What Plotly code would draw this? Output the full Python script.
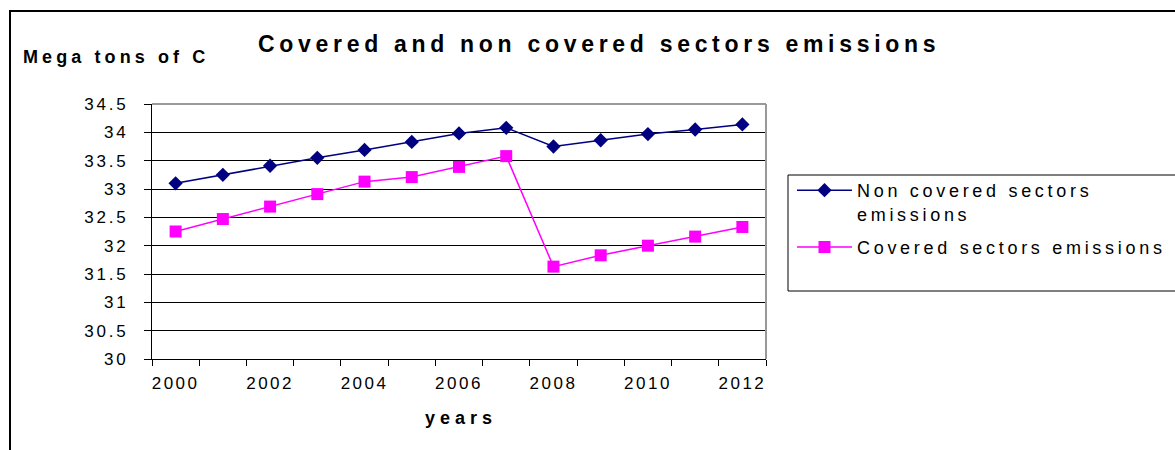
import plotly.graph_objects as go

# Emissions by year, Mega tons of C
years = [2000, 2001, 2002, 2003, 2004, 2005, 2006, 2007, 2008, 2009, 2010, 2011, 2012]
non_covered = [33.10, 33.25, 33.41, 33.55, 33.69, 33.83, 33.98, 34.08, 33.75, 33.86, 33.97, 34.05, 34.14]
covered = [32.25, 32.47, 32.69, 32.91, 33.13, 33.21, 33.39, 33.58, 31.63, 31.83, 32.00, 32.16, 32.33]

y_ticks = [30, 30.5, 31, 31.5, 32, 32.5, 33, 33.5, 34, 34.5]
y_tick_labels = ["30", "30.5", "31", "31.5", "32", "32.5", "33", "33.5", "34", "34.5"]
x_ticks = [2000, 2002, 2004, 2006, 2008, 2010, 2012]
x_tick_labels = ["2000", "2002", "2004", "2006", "2008", "2010", "2012"]

title_text = "Covered and non covered sectors emissions"
y_title = "Mega tons of C"
x_title = "years"
name_non_covered = "Non covered sectors<br>emissions"
name_covered = "Covered sectors emissions"

FONT = "Liberation Sans, Arial, sans-serif"


def spaced(text, px):
    # wide letter tracking, applied per text piece
    parts = text.split("<br>")
    return "<br>".join(f'<span style="letter-spacing:{px}px">{p}</span>' for p in parts)


W, H = 1175, 450
L, R, T, B = 152, 409, 104, 91
PW, PH = W - L - R, H - T - B


def px_x(x):
    return (x - L) / PW


def px_y(y):
    return (H - B - y) / PH


fig = go.Figure()
fig.add_trace(go.Scatter(
    x=years, y=non_covered, mode="lines+markers",
    name=spaced(name_non_covered, 3.7), legendgroup="a",
    line=dict(color="#000080", width=1.5),
    marker=dict(symbol="diamond", size=11, color="#000080"),
))
fig.add_trace(go.Scatter(
    x=years, y=covered, mode="lines+markers",
    name=spaced(name_covered, 3.7), legendgroup="b",
    line=dict(color="#FF00FF", width=1.5),
    marker=dict(symbol="square", size=12, color="#FF00FF"),
))

shapes = [
    # outer chart frame
    dict(type="rect", xref="paper", yref="paper",
         x0=px_x(10), x1=px_x(1190), y0=px_y(470), y1=px_y(11),
         line=dict(color="black", width=2), layer="below"),
    # plot area top and right edges
    dict(type="line", xref="paper", yref="paper", x0=0, x1=1, y0=1, y1=1,
         line=dict(color="#999999", width=2)),
    dict(type="line", xref="paper", yref="paper", x0=1, x1=1, y0=0, y1=1,
         line=dict(color="#999999", width=2)),
    # legend frame
    dict(type="rect", xref="paper", yref="paper",
         x0=px_x(788), x1=px_x(1190), y0=px_y(291), y1=px_y(175),
         line=dict(color="black", width=1)),
]

annotations = [
    dict(text="<b>" + spaced(title_text, 4.7) + "</b>", x=px_x(599), y=px_y(44),
         xref="paper", yref="paper", showarrow=False, xanchor="center", yanchor="middle",
         font=dict(family=FONT, size=23, color="black")),
    dict(text="<b>" + spaced(y_title, 4.1) + "</b>", x=px_x(21), y=px_y(57),
         xref="paper", yref="paper", showarrow=False, xanchor="left", yanchor="middle",
         font=dict(family=FONT, size=18, color="black")),
    dict(text="<b>" + spaced(x_title, 5) + "</b>", x=px_x(461), y=px_y(418),
         xref="paper", yref="paper", showarrow=False, xanchor="center", yanchor="middle",
         font=dict(family=FONT, size=18, color="black")),
]

fig.update_layout(
    width=W, height=H,
    margin=dict(l=L, r=R, t=T, b=B, autoexpand=False),
    paper_bgcolor="white", plot_bgcolor="white",
    font=dict(family=FONT, color="black"),
    showlegend=True,
    legend=dict(
        x=px_x(792), y=px_y(172), xanchor="left", yanchor="top",
        bgcolor="rgba(0,0,0,0)", borderwidth=0,
        font=dict(family=FONT, size=18, color="black"),
        valign="top", itemwidth=55, tracegroupgap=7,
    ),
    shapes=shapes,
    annotations=annotations,
)

fig.update_xaxes(
    range=[1999.5, 2012.5],
    tickmode="array", tickvals=x_ticks,
    ticktext=[spaced(t, 2.5) for t in x_tick_labels],
    ticks="", showgrid=False, zeroline=False,
    showline=True, linecolor="black", linewidth=1,
    tickfont=dict(family=FONT, size=17, color="black"),
    ticklabelstandoff=9,
    minor=dict(tickmode="array", tickvals=[y + 0.5 for y in [1999] + years],
               ticks="outside", ticklen=6, tickcolor="black", tickwidth=1, showgrid=False),
)
fig.update_yaxes(
    range=[30, 34.5],
    tickmode="array", tickvals=y_ticks,
    ticktext=[spaced(t, 2.8) for t in y_tick_labels],
    ticks="outside", ticklen=7, tickcolor="black", tickwidth=1,
    showgrid=True, gridcolor="black", gridwidth=1, zeroline=False,
    showline=True, linecolor="black", linewidth=1,
    tickfont=dict(family=FONT, size=17, color="black"),
    ticklabelstandoff=12,
)

fig.write_html("out.html")
